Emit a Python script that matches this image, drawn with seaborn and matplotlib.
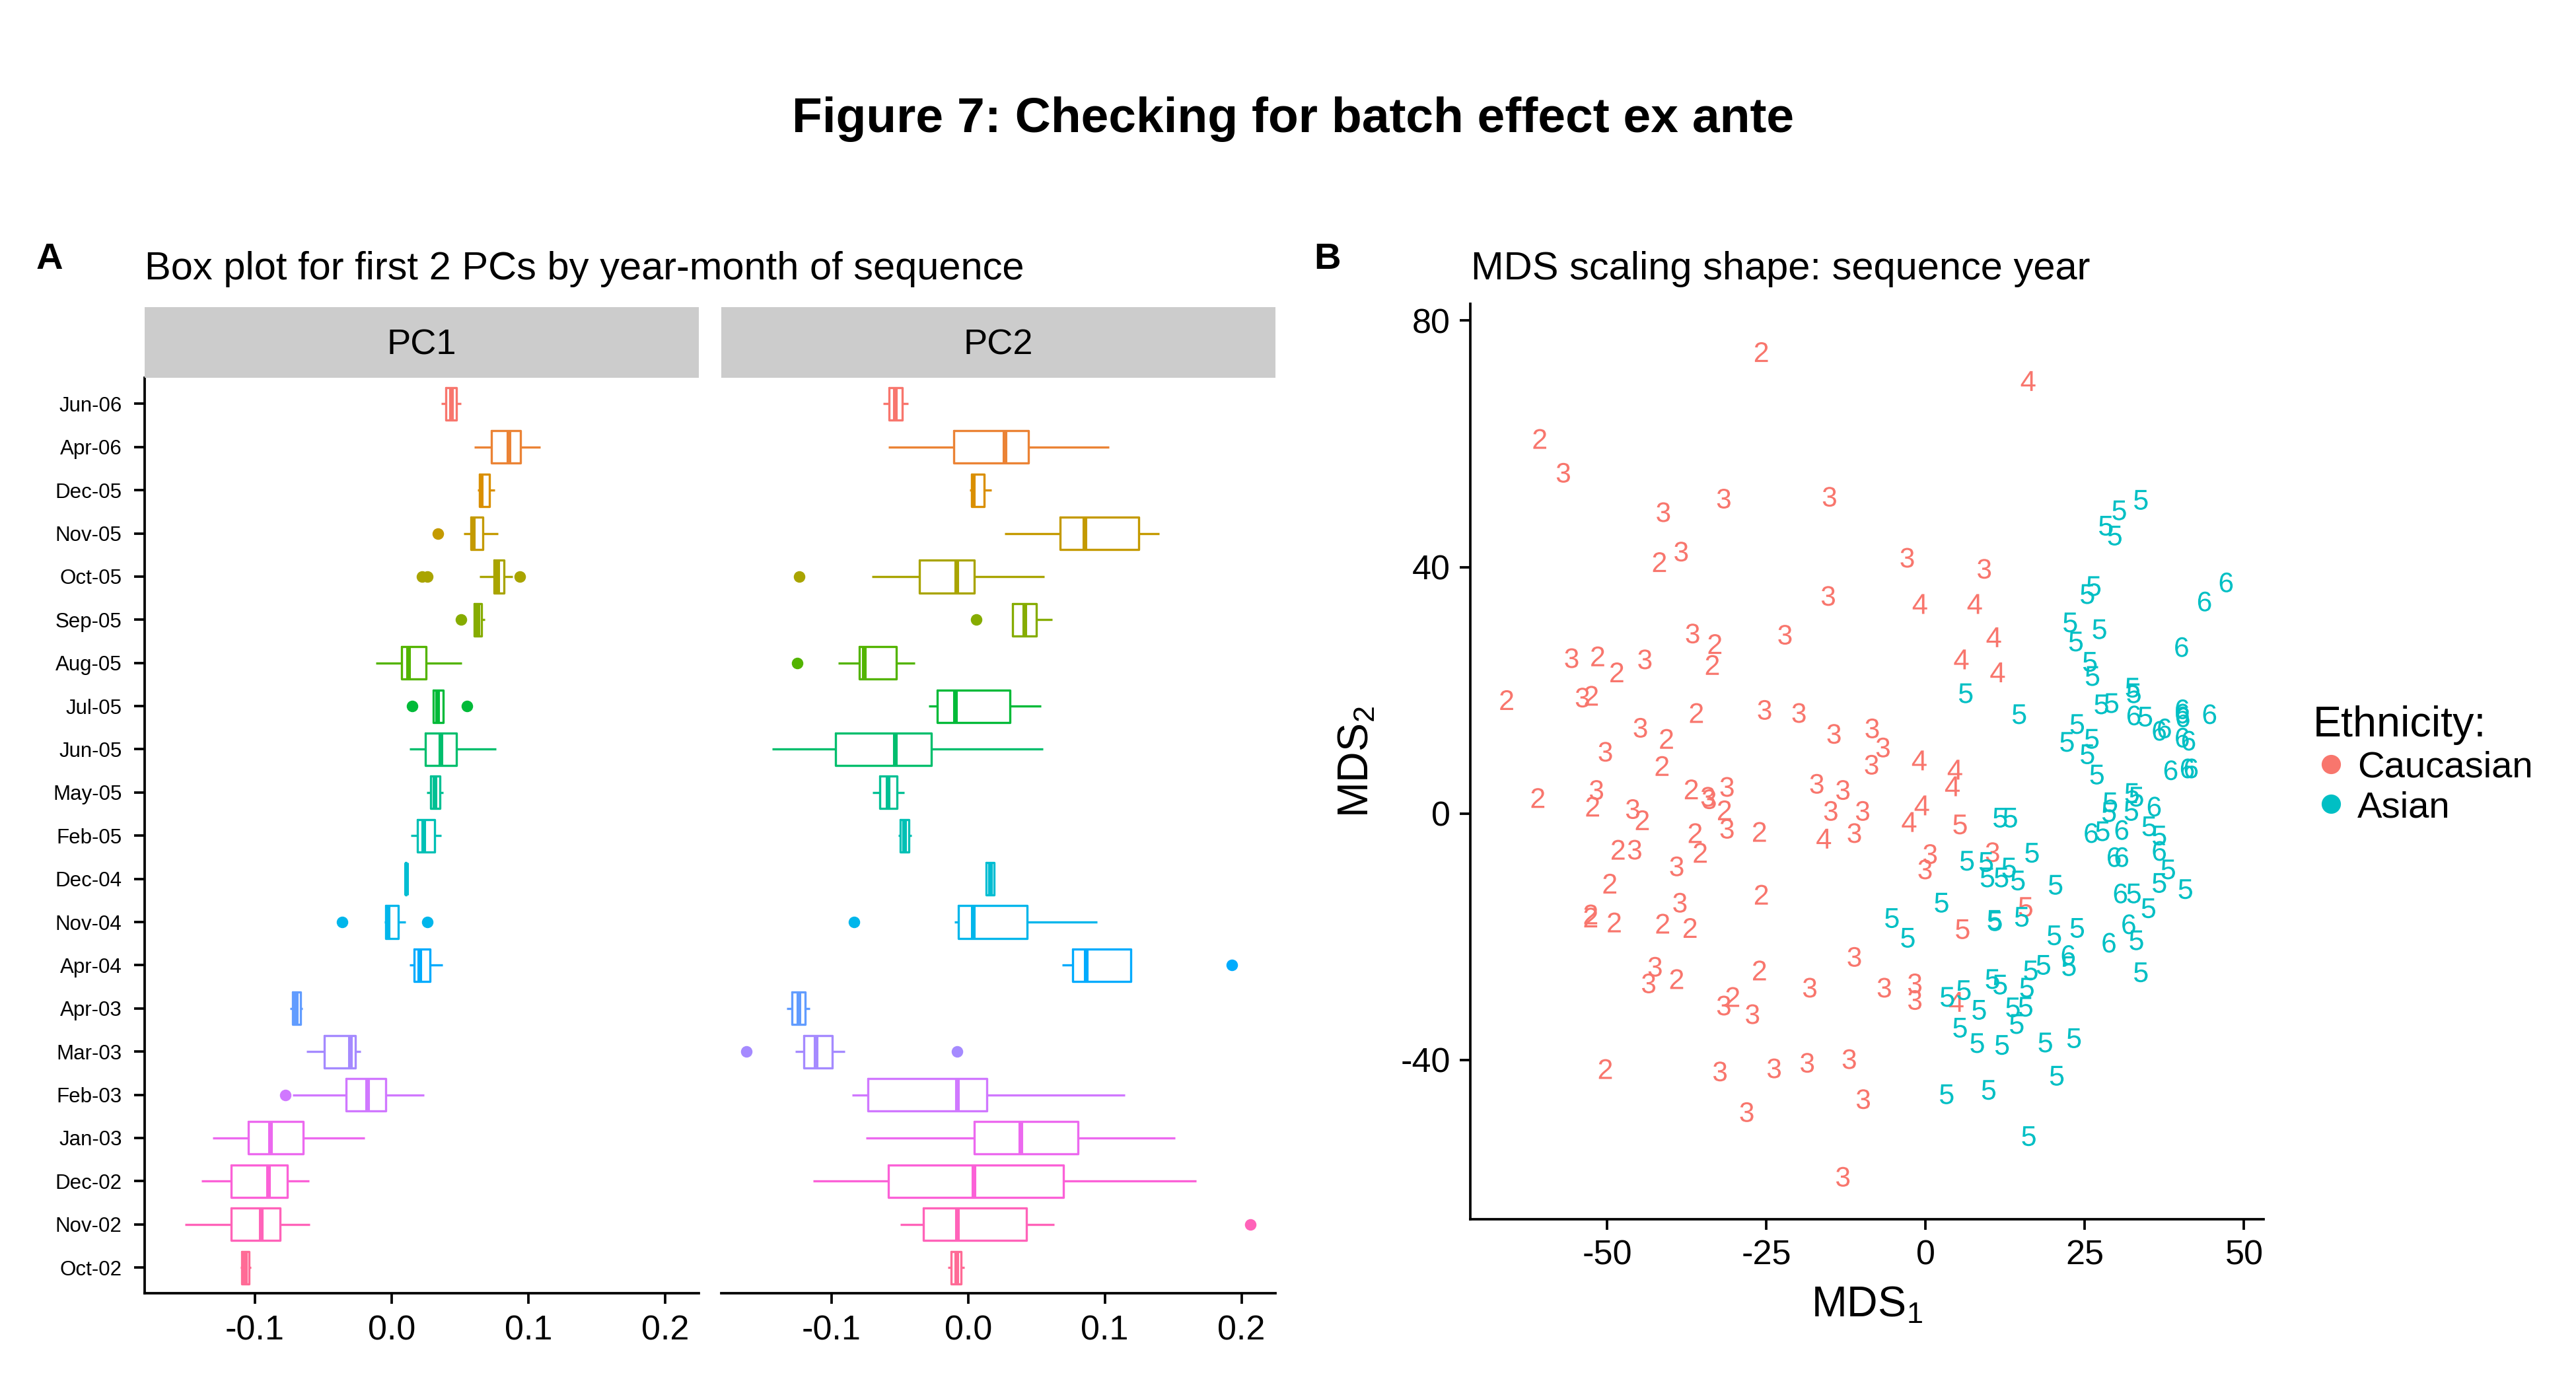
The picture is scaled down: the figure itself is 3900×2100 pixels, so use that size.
import numpy as np
import pandas as pd
import matplotlib
matplotlib.use("Agg")
import matplotlib.pyplot as plt
import seaborn as sns
from matplotlib.lines import Line2D

# months, top to bottom as in the figure
months = ["Jun-06", "Apr-06", "Dec-05", "Nov-05", "Oct-05", "Sep-05", "Aug-05",
          "Jul-05", "Jun-05", "May-05", "Feb-05", "Dec-04", "Nov-04", "Apr-04",
          "Apr-03", "Mar-03", "Feb-03", "Jan-03", "Dec-02", "Nov-02", "Oct-02"]

# PC1 box summaries (whisker low, Q1, median, Q3, whisker high, outliers)
pc1_lo = [0.0362, 0.0605, 0.0629, 0.0529, 0.0645, 0.0605, -0.0116, 0.0303, 0.0133, 0.0256, 0.0140,
          0.0103, -0.0053, 0.0133, -0.0745, -0.0625, -0.0725, -0.1310, -0.1393, -0.1513, -0.1104]
pc1_q1 = [0.0396, 0.0728, 0.0645, 0.0582, 0.0748, 0.0605, 0.0073, 0.0303, 0.0249, 0.0286, 0.0190,
          0.0104, -0.0043, 0.0166, -0.0725, -0.0492, -0.0333, -0.1048, -0.1174, -0.1174, -0.1097]
pc1_med = [0.0436, 0.0855, 0.0655, 0.0595, 0.0775, 0.0629, 0.0120, 0.0336, 0.0359, 0.0313, 0.0233,
           0.0106, -0.0030, 0.0203, -0.0698, -0.0303, -0.0176, -0.0891, -0.0901, -0.0954, -0.1071]
pc1_q3 = [0.0476, 0.0944, 0.0718, 0.0668, 0.0820, 0.0660, 0.0253, 0.0379, 0.0472, 0.0353, 0.0313,
          0.0108, 0.0050, 0.0279, -0.0665, -0.0263, -0.0043, -0.0648, -0.0765, -0.0818, -0.1044]
pc1_hi = [0.0509, 0.1087, 0.0755, 0.0778, 0.0885, 0.0680, 0.0512, 0.0379, 0.0762, 0.0376, 0.0362,
          0.0109, 0.0103, 0.0372, -0.0652, -0.0229, 0.0239, -0.0196, -0.0602, -0.0599, -0.1031]
pc1_out = [[], [], [], [0.0339], [0.0225, 0.0260, 0.0938], [0.0509], [], [0.0150, 0.0549], [], [], [],
           [], [-0.0362, 0.0263], [], [], [], [-0.0778], [], [], [], []]

# PC2 box summaries
pc2_lo = [-0.0623, -0.0584, 0.0011, 0.0266, -0.0703, 0.0326, -0.0952, -0.0291, -0.1436, -0.0700, -0.0512,
          0.0125, -0.0102, 0.0689, -0.1326, -0.1265, -0.0850, -0.0750, -0.1135, -0.0498, -0.0150]
pc2_q1 = [-0.0578, -0.0105, 0.0025, 0.0675, -0.0357, 0.0326, -0.0794, -0.0227, -0.0969, -0.0645, -0.0495,
          0.0133, -0.0070, 0.0767, -0.1290, -0.1201, -0.0731, 0.0044, -0.0584, -0.0329, -0.0122]
pc2_med = [-0.0534, 0.0268, 0.0036, 0.0850, -0.0086, 0.0412, -0.0761, -0.0094, -0.0534, -0.0587, -0.0465,
           0.0161, 0.0036, 0.0861, -0.1243, -0.1113, -0.0080, 0.0385, 0.0039, -0.0080, -0.0086]
pc2_q3 = [-0.0482, 0.0443, 0.0116, 0.1248, 0.0044, 0.0498, -0.0526, 0.0304, -0.0271, -0.0520, -0.0432,
          0.0191, 0.0430, 0.1190, -0.1193, -0.0996, 0.0136, 0.0803, 0.0695, 0.0426, -0.0053]
pc2_hi = [-0.0440, 0.1032, 0.0172, 0.1398, 0.0559, 0.0617, -0.0390, 0.0534, 0.0545, -0.0468, -0.0415,
          0.0197, 0.0944, 0.1190, -0.1157, -0.0900, 0.1146, 0.1514, 0.1669, 0.0628, -0.0030]
pc2_out = [[], [], [], [], [-0.1234], [0.0058], [-0.1248], [], [], [], [],
           [], [-0.0836], [0.1929], [], [-0.1622, -0.0083], [], [], [], [0.2065], []]

# MDS coordinates: (x, y, sequence year digit)
cau_x = [-25.8, 16.1, -60.6, -56.9, -31.7, -15.1, -41.2, -38.4, -41.8, -15.3, -2.9, 9.2, -0.9, 7.7,
         10.7, 5.6, 11.3, -36.6, -33.1, -22.1, -55.6, -51.5, -48.5, -44.1, -33.5, -65.8, -53.9, -52.5,
         -36.0, -25.3, -19.9, -14.4, -44.8, -40.7, -50.3, -41.4, -8.4, -6.7, -8.5, -1.0, 4.6, 4.2,
         -60.9, -51.7, -52.3, -46.0, -44.5, -36.8, -34.2, -34.0, -31.2, -31.6, -31.2, -36.2, -26.1,
         -17.1, -13.0, -14.9, -9.9, -0.6, -2.6, 5.4, -16.0, -11.2, -48.3, -45.7, -39.1, -35.4, -49.6,
         -25.8, -38.6, -52.6, -52.6, -48.9, -41.3, -37.0, 10.5, 0.7, -0.1, 5.8, 15.7, -11.2, -42.5,
         -43.5, -39.1, -26.1, -18.2, -30.3, -31.7, -27.2, -50.3, -32.3, -23.8, -18.6, -12.0, -9.8,
         -28.1, -13.0, -6.5, -1.7, -1.7, 4.8]
cau_y = [74.9, 70.2, 60.8, 55.3, 51.1, 51.4, 48.9, 42.5, 40.8, 35.3, 41.5, 39.7, 34.0, 34.0,
         28.6, 25.0, 22.9, 29.2, 27.5, 29.0, 25.2, 25.5, 22.9, 25.0, 24.1, 18.4, 18.8, 19.1,
         16.3, 16.8, 16.3, 12.9, 13.9, 12.1, 10.0, 7.7, 13.8, 10.7, 7.9, 8.6, 7.1, 4.4,
         2.5, 3.8, 1.1, 0.7, -1.1, 3.9, 2.7, 2.3, 4.3, 0.5, -2.5, -3.2, -3.0,
         4.8, 3.8, 0.4, 0.4, 1.3, -1.4, -1.8, -4.1, -3.2, -5.9, -5.9, -8.6, -6.4, -11.4,
         -13.2, -14.5, -16.4, -16.9, -17.7, -17.9, -18.6, -6.3, -6.6, -9.1, -18.8, -15.2, -23.3, -24.9,
         -27.6, -26.9, -25.5, -28.3, -29.8, -31.2, -32.6, -41.5, -41.9, -41.4, -40.5, -39.9, -46.4,
         -48.5, -59.0, -28.3, -27.6, -30.3, -30.6]
cau_year = ["2", "4", "2", "3", "3", "3", "3", "3", "2", "3", "3", "3", "4", "4",
            "4", "4", "4", "3", "2", "3", "3", "2", "2", "3", "2", "2", "3", "2",
            "2", "3", "3", "3", "3", "2", "3", "2", "3", "3", "3", "4", "4", "4",
            "2", "3", "2", "3", "2", "2", "3", "3", "3", "2", "3", "2", "2",
            "3", "3", "3", "3", "4", "4", "5", "4", "3", "2", "3", "3", "2", "2",
            "2", "3", "2", "2", "2", "2", "2", "3", "3", "3", "5", "5", "3", "3",
            "3", "2", "2", "3", "2", "3", "3", "2", "3", "3", "3", "3", "3",
            "3", "3", "3", "3", "3", "4"]

asi_x = [33.8, 30.4, 28.3, 29.7, 26.4, 25.4, 47.2, 43.8, 22.7, 27.3, 23.6, 40.2, 25.8, 26.2,
         6.3, 14.7, 32.5, 32.7, 27.6, 29.2, 32.7, 34.5, 40.3, 40.3, 40.4, 44.6, 36.7, 37.5,
         40.3, 41.3, 23.8, 22.2, 26.1, 25.4, 26.9, 38.5, 41.1, 41.7, 11.7, 13.3, 29.0, 32.4,
         33.1, 28.8, 32.3, 35.9, 26.0, 27.8, 30.8, 35.1, 36.7, 36.7, 29.6, 30.8, 38.1, 36.7,
         40.8, 30.6, 32.7, 35.0, 31.9, 33.1, 28.8, 16.7, 6.5, 9.5, 13.1, 9.7, 11.9, 14.5,
         20.4, 2.5, -5.3, 10.8, 10.9, 15.1, 23.8, 20.2, -2.8, 22.4, 22.5, 33.8, 18.5, 16.5,
         10.5, 11.7, 15.9, 6.0, 3.4, 8.4, 13.7, 15.7, 14.3, 5.4, 8.1, 12.0, 18.8, 23.3,
         20.6, 9.9, 3.3, 16.2]
asi_y = [50.9, 49.2, 46.7, 45.1, 36.9, 35.6, 37.5, 34.4, 31.0, 29.9, 27.9, 27.0, 24.6, 22.3,
         19.5, 16.1, 20.4, 19.5, 17.7, 17.9, 15.9, 15.7, 16.9, 16.2, 15.6, 16.1, 13.4, 13.8,
         12.3, 11.8, 14.5, 11.6, 12.1, 9.6, 6.3, 7.0, 7.3, 7.3, -0.7, -0.7, 1.8, 3.3,
         2.7, 0.2, 0.4, 1.1, -3.2, -2.9, -2.7, -2.1, -3.6, -6.1, -7.1, -7.1, -9.1, -11.3,
         -12.3, -13.0, -13.0, -15.4, -18.0, -20.6, -21.0, -6.4, -7.7, -7.9, -8.8, -10.4, -10.4, -10.9,
         -11.6, -14.5, -17.0, -17.3, -17.5, -16.8, -18.6, -19.8, -20.2, -23.0, -24.8, -25.8, -24.6, -25.5,
         -26.9, -27.8, -28.3, -28.7, -29.8, -31.9, -31.5, -31.4, -34.2, -34.8, -37.3, -37.6, -37.2, -36.5,
         -42.6, -44.9, -45.6, -52.4]
asi_year = ["5", "5", "5", "5", "5", "5", "6", "6", "5", "5", "5", "6", "5", "5",
            "5", "5", "5", "5", "5", "5", "6", "5", "6", "6", "6", "6", "6", "6",
            "6", "6", "5", "5", "5", "5", "5", "6", "6", "6", "5", "5", "5", "5",
            "5", "5", "5", "6", "6", "5", "6", "5", "5", "6", "6", "6", "5", "5",
            "5", "6", "5", "5", "6", "5", "6", "5", "5", "5", "5", "5", "5", "5",
            "5", "5", "5", "5", "5", "5", "5", "5", "5", "6", "5", "5", "5", "5",
            "5", "5", "5", "5", "5", "5", "5", "5", "5", "5", "5", "5", "5", "5",
            "5", "5", "5", "5"]


def hue_pal(n, l=65, c=100, h0=15):
    # ggplot2 default discrete palette (HCL hues), converted to sRGB
    cols = []
    xn, yn, zn = 0.95047, 1.0, 1.08883
    un = 4 * xn / (xn + 15 * yn + 3 * zn)
    vn = 9 * yn / (xn + 15 * yn + 3 * zn)
    for h in np.linspace(h0, h0 + 360, n + 1)[:-1]:
        u = c * np.cos(np.deg2rad(h))
        v = c * np.sin(np.deg2rad(h))
        Y = ((l + 16) / 116) ** 3
        up = u / (13 * l) + un
        vp = v / (13 * l) + vn
        X = Y * 9 * up / (4 * vp)
        Z = Y * (12 - 3 * up - 20 * vp) / (4 * vp)
        rgb = np.array([3.2404542 * X - 1.5371385 * Y - 0.4985314 * Z,
                        -0.9692660 * X + 1.8760108 * Y + 0.0415560 * Z,
                        0.0556434 * X - 0.2040259 * Y + 1.0572252 * Z])
        rgb = np.where(rgb <= 0.0031308, 12.92 * rgb, 1.055 * np.abs(rgb) ** (1 / 2.4) - 0.055)
        cols.append(tuple(np.clip(rgb, 0, 1)))
    return cols


def expand(lo, q1, med, q3, hi, out):
    # a sample whose boxplot stats give back the values
    return [lo] + [q1] * 20 + [med] * 20 + [q3] * 20 + [hi] + list(out)


rows = []
for pc, stats in (("PC1", (pc1_lo, pc1_q1, pc1_med, pc1_q3, pc1_hi, pc1_out)),
                  ("PC2", (pc2_lo, pc2_q1, pc2_med, pc2_q3, pc2_hi, pc2_out))):
    for i, m in enumerate(months):
        for v in expand(*(s[i] for s in stats)):
            rows.append((pc, m, v))
box_df = pd.DataFrame(rows, columns=["pc", "month", "value"])

mds = pd.DataFrame({
    "x": cau_x + asi_x,
    "y": cau_y + asi_y,
    "year": cau_year + asi_year,
    "Ethnicity": ["Caucasian"] * len(cau_x) + ["Asian"] * len(asi_x),
})

sns.set_theme(style="ticks")
plt.rcParams["font.family"] = ["Liberation Sans", "DejaVu Sans"]
plt.rcParams["mathtext.fontset"] = "custom"
plt.rcParams["mathtext.rm"] = "Liberation Sans"
plt.rcParams["mathtext.it"] = "Liberation Sans:italic"
plt.rcParams["mathtext.bf"] = "Liberation Sans:bold"
plt.rcParams["axes.unicode_minus"] = False
for key in ["text.color", "axes.labelcolor", "xtick.color", "ytick.color", "axes.edgecolor"]:
    plt.rcParams[key] = "black"

pal = hue_pal(len(months))
eth_pal = {"Caucasian": "#F8766D", "Asian": "#00BFC4"}

fig = plt.figure(figsize=(13, 7), dpi=300)

fig.text(0.502, 0.914, "Figure 7: Checking for batch effect ex ante", ha="center", va="center",
         fontsize=18, fontweight="bold")

# Panel A: boxplots faceted by PC
facet_left = [0.0562, 0.2800]
facet_w = 0.2150
ax_bottom, ax_top = 0.0675, 0.7275
for k, pc in enumerate(["PC1", "PC2"]):
    ax = fig.add_axes([facet_left[k], ax_bottom, facet_w, ax_top - ax_bottom])
    sns.boxplot(data=box_df[box_df.pc == pc], x="value", y="month", hue="month",
                order=months, hue_order=months, palette=pal, fill=False, width=0.75,
                showcaps=False, linewidth=0.8, fliersize=3.2, legend=False, ax=ax,
                medianprops={"linewidth": 1.7}, flierprops={"marker": "o"})
    for line in ax.lines:
        if line.get_marker() == "o":
            line.set_markerfacecolor(line.get_markeredgecolor())
    ax.set_xlim(-0.1806, 0.2246)
    ax.set_ylim(20.6, -0.6)
    ax.set_xticks([-0.1, 0.0, 0.1, 0.2])
    ax.set_xticklabels(["-0.1", "0.0", "0.1", "0.2"])
    ax.set_xlabel("")
    ax.set_ylabel("")
    ax.tick_params(axis="x", labelsize=12.5, length=3.8, width=0.9, pad=4)
    ax.tick_params(axis="y", labelsize=7.5, length=3.8, width=0.9, pad=4.5)
    for sp in ["top", "right"]:
        ax.spines[sp].set_visible(False)
    ax.spines["bottom"].set_linewidth(0.9)
    ax.spines["left"].set_linewidth(0.9)
    if k == 1:
        ax.spines["left"].set_visible(False)
        ax.tick_params(axis="y", left=False, labelleft=False)
    strip = fig.add_axes([facet_left[k], ax_top, facet_w, 0.0509])
    strip.set_facecolor("#CCCCCC")
    strip.set_xticks([])
    strip.set_yticks([])
    for sp in strip.spines.values():
        sp.set_visible(False)
    strip.text(0.5, 0.47, pc, ha="center", va="center", fontsize=13, transform=strip.transAxes)

fig.text(0.014, 0.813, "A", ha="left", va="center", fontsize=13.5, fontweight="bold")
fig.text(0.0561, 0.806, "Box plot for first 2 PCs by year-month of sequence", ha="left",
         va="center", fontsize=14.3)

# Panel B: MDS scatter with the sequence year as the plotting symbol
axb = fig.add_axes([0.5708, 0.1209, 0.3080, 0.6599])
sns.scatterplot(data=mds, x="x", y="y", hue="Ethnicity", style="year", palette=eth_pal,
                markers={y: "$" + y + "$" for y in ["2", "3", "4", "5", "6"]},
                s=52, linewidth=0, legend=False, ax=axb)
axb.set_xlim(-71.5, 53.1)
axb.set_ylim(-65.9, 82.7)
axb.set_xticks([-50, -25, 0, 25, 50])
axb.set_yticks([-40, 0, 40, 80])
axb.set_xlabel("MDS$_1$", fontsize=15.5, labelpad=5)
axb.set_ylabel("MDS$_2$", fontsize=15.5, labelpad=8.5)
axb.tick_params(labelsize=12.5, length=3.8, width=0.9, pad=3.5)
for sp in ["top", "right"]:
    axb.spines[sp].set_visible(False)
axb.spines["bottom"].set_linewidth(0.9)
axb.spines["left"].set_linewidth(0.9)

fig.text(0.510, 0.813, "B", ha="left", va="center", fontsize=13.5, fontweight="bold")
fig.text(0.571, 0.806, "MDS scaling shape: sequence year", ha="left", va="center", fontsize=14.3)

handles = [Line2D([], [], marker="o", linestyle="", color=eth_pal[e], markersize=6)
           for e in ["Caucasian", "Asian"]]
leg = fig.legend(handles, ["Caucasian", "Asian"], title="Ethnicity:", loc="upper left",
                 bbox_to_anchor=(0.892, 0.502), frameon=False, fontsize=13.5,
                 title_fontsize=15.5, handletextpad=0.2, handlelength=1.0,
                 labelspacing=0.15, borderaxespad=0)
leg._legend_box.align = "left"

fig.savefig("out.png", dpi=300)
